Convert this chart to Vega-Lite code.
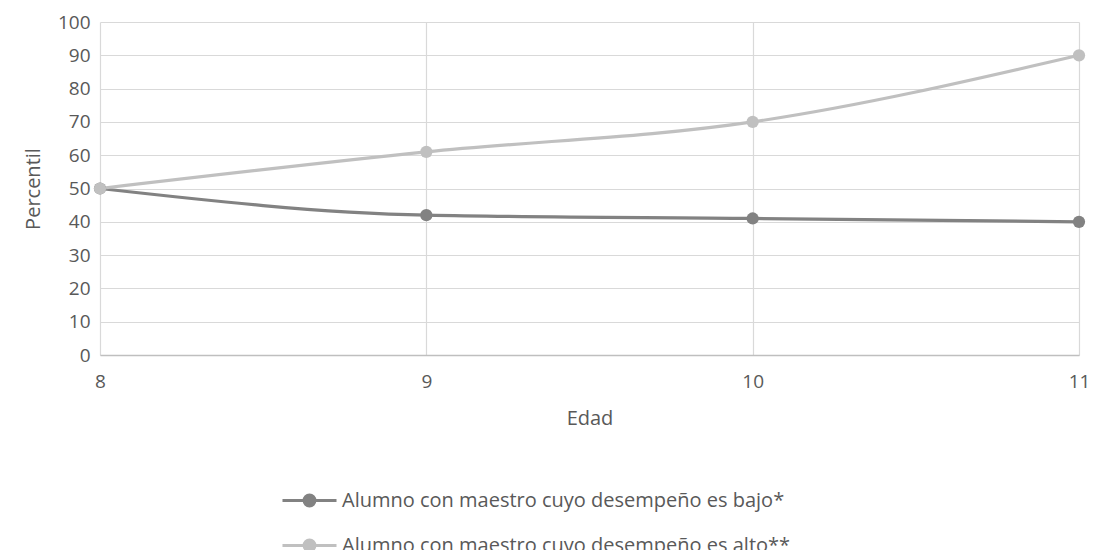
{
  "$schema": "https://vega.github.io/schema/vega-lite/v6.json",
  "width": 979,
  "height": 333,
  "autosize": {"type": "none"},
  "padding": {"left": 100, "top": 22, "right": 17, "bottom": 195},
  "background": "white",
  "config": {
    "view": {"stroke": null},
    "font": "Open Sans",
    "axis": {
      "labelColor": "#595959",
      "titleColor": "#595959",
      "labelFont": "Open Sans",
      "titleFont": "Open Sans",
      "titleFontWeight": "normal",
      "gridColor": "#d9d9d9",
      "gridWidth": 1.2,
      "ticks": false,
      "domain": false
    }
  },
  "data": {
    "values": [
      {"serie": "Alumno con maestro cuyo desempeño es bajo*", "edad": 8, "percentil": 50},
      {"serie": "Alumno con maestro cuyo desempeño es bajo*", "edad": 9, "percentil": 42},
      {"serie": "Alumno con maestro cuyo desempeño es bajo*", "edad": 10, "percentil": 41},
      {"serie": "Alumno con maestro cuyo desempeño es bajo*", "edad": 11, "percentil": 40},
      {"serie": "Alumno con maestro cuyo desempeño es alto**", "edad": 8, "percentil": 50},
      {"serie": "Alumno con maestro cuyo desempeño es alto**", "edad": 9, "percentil": 61},
      {"serie": "Alumno con maestro cuyo desempeño es alto**", "edad": 10, "percentil": 70},
      {"serie": "Alumno con maestro cuyo desempeño es alto**", "edad": 11, "percentil": 90}
    ]
  },
  "mark": {
    "type": "line",
    "interpolate": "monotone",
    "strokeWidth": 3.2,
    "point": {"filled": true, "size": 150, "opacity": 1}
  },
  "encoding": {
    "x": {
      "field": "edad",
      "type": "quantitative",
      "title": "Edad",
      "scale": {"domain": [8, 11], "nice": false, "zero": false},
      "axis": {
        "values": [8, 9, 10, 11],
        "format": "d",
        "labelFlush": false,
        "labelFontSize": 19,
        "labelPadding": 17,
        "titleFontSize": 20,
        "titlePadding": 17,
        "domain": true,
        "domainColor": "#bfbfbf",
        "domainWidth": 1.5
      }
    },
    "y": {
      "field": "percentil",
      "type": "quantitative",
      "title": "Percentil",
      "scale": {"domain": [0, 100], "nice": false},
      "axis": {
        "values": [0, 10, 20, 30, 40, 50, 60, 70, 80, 90, 100],
        "labelFontSize": 19,
        "labelPadding": 10,
        "titleFontSize": 20,
        "titlePadding": 14
      }
    },
    "color": {
      "field": "serie",
      "type": "nominal",
      "sort": null,
      "scale": {
        "domain": [
          "Alumno con maestro cuyo desempeño es bajo*",
          "Alumno con maestro cuyo desempeño es alto**"
        ],
        "range": ["#828282", "#c0c0c0"]
      },
      "legend": {
        "title": null,
        "orient": "none",
        "legendX": 197,
        "legendY": 466,
        "direction": "vertical",
        "symbolType": "M-2.5,0H-0.5A0.5,0.5 0 1,1 0.5,0A0.5,0.5 0 1,1 -0.5,0M0.5,0H2.5",
        "symbolSize": 467,
        "symbolStrokeWidth": 3,
        "labelFontSize": 20,
        "labelColor": "#595959",
        "labelFont": "Open Sans",
        "labelOffset": 20,
        "rowPadding": 21,
        "labelLimit": 700,
        "encode": {
          "symbols": {
            "update": {
              "fill": {"scale": "color", "field": "value"},
              "stroke": {"scale": "color", "field": "value"},
              "opacity": {"value": 1}
            }
          }
        }
      }
    }
  }
}
